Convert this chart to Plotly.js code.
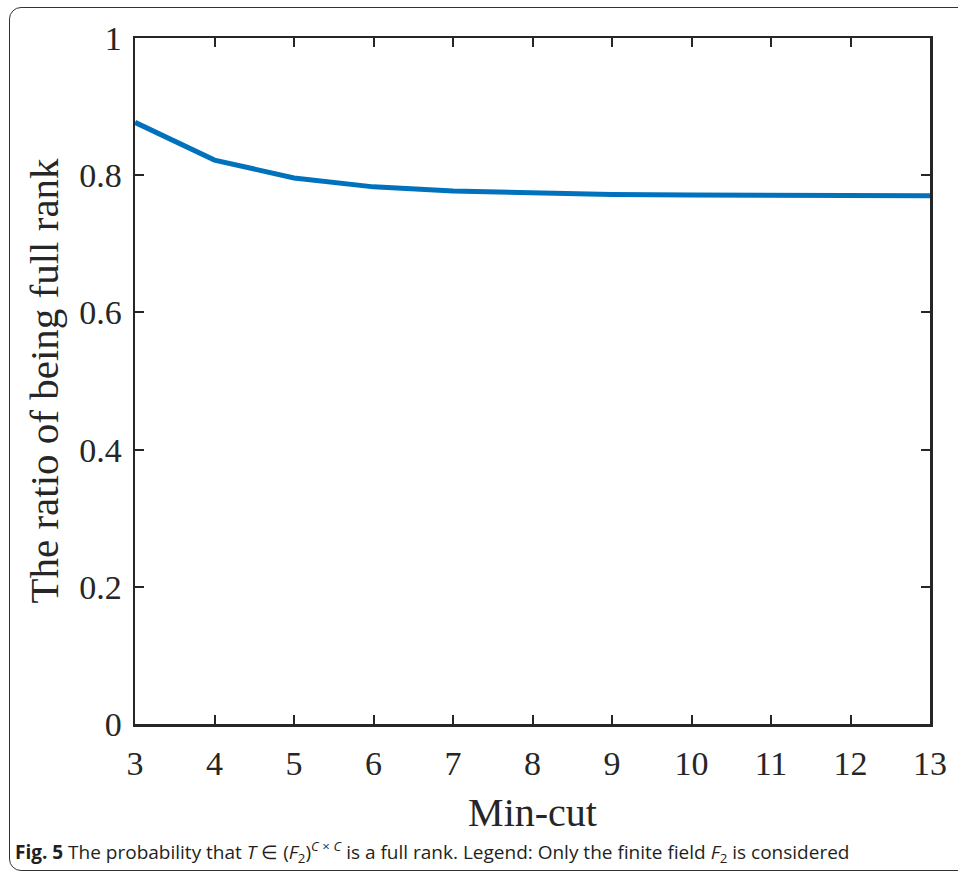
<!DOCTYPE html>
<html>
<head>
<meta charset="utf-8">
<script src="https://cdn.plot.ly/plotly-3.0.1.min.js"></script>
<style>
html,body{margin:0;padding:0;background:#fff;}
#wrap{position:relative;width:958px;height:871px;overflow:hidden;}
#frame{position:absolute;left:9px;top:7px;width:980px;height:862px;border:1.5px solid #333;border-radius:12px;pointer-events:none;z-index:5;}
#chart{position:absolute;left:0;top:0;width:958px;height:871px;}
</style>
</head>
<body>
<div id="wrap">
<div id="chart"></div>
<div id="frame"></div>
</div>
<script>
var minCut = [3, 4, 5, 6, 7, 8, 9, 10, 11, 12, 13];
var fullRankRatio = [0.877, 0.822, 0.796, 0.783, 0.777, 0.774, 0.772, 0.771, 0.771, 0.770, 0.770];
var yTickVals = [0, 0.2, 0.4, 0.6, 0.8, 1];
var yTickText = ['0', '0.2', '0.4', '0.6', '0.8', '1'];

var trace = {
  x: minCut,
  y: fullRankRatio,
  type: 'scatter',
  mode: 'lines',
  line: {color: '#0072BD', width: 5},
  hoverinfo: 'none'
};

var axisFont = {family: 'Liberation Serif, Times New Roman, serif', size: 34, color: '#262626'};

var layout = {
  width: 958,
  height: 871,
  margin: {l: 135, r: 28, t: 38, b: 147},
  paper_bgcolor: '#fff',
  plot_bgcolor: '#fff',
  showlegend: false,
  xaxis: {
    range: [3, 13],
    tickvals: minCut,
    ticks: 'inside',
    ticklen: 9,
    tickwidth: 2,
    tickcolor: '#262626',
    showline: true,
    linecolor: '#262626',
    linewidth: 2.5,
    mirror: 'ticks',
    showgrid: false,
    zeroline: false,
    tickfont: axisFont,
    ticklabelstandoff: 8,
    title: {text: 'Min-cut', font: {family: 'Liberation Serif, Times New Roman, serif', size: 40, color: '#262626'}, standoff: 17}
  },
  yaxis: {
    range: [0, 1],
    tickvals: yTickVals,
    ticktext: yTickText,
    ticks: 'inside',
    ticklen: 9,
    tickwidth: 2,
    tickcolor: '#262626',
    showline: true,
    linecolor: '#262626',
    linewidth: 2.5,
    mirror: 'ticks',
    showgrid: false,
    zeroline: false,
    tickfont: axisFont,
    ticklabelstandoff: 4,
    title: {text: 'The ratio of being full rank', font: {family: 'Liberation Serif, Times New Roman, serif', size: 41, color: '#262626'}, standoff: 8}
  },
  annotations: [{
    xref: 'paper', yref: 'paper',
    x: -0.1535, y: -0.1866,
    xanchor: 'left', yanchor: 'middle',
    showarrow: false,
    align: 'left',
    font: {family: 'Open Sans, sans-serif', size: 19, color: '#231f20'},
    text: '<b>Fig. 5</b> The probability that <i>T</i> ∈ (<i>F</i><sub>2</sub>)<sup><i>C</i> × <i>C</i></sup> is a full rank. Legend: Only the finite field <i>F</i><sub>2</sub> is considered'
  }]
};

Plotly.newPlot('chart', [trace], layout, {displayModeBar: false, staticPlot: true});
</script>
</body>
</html>
